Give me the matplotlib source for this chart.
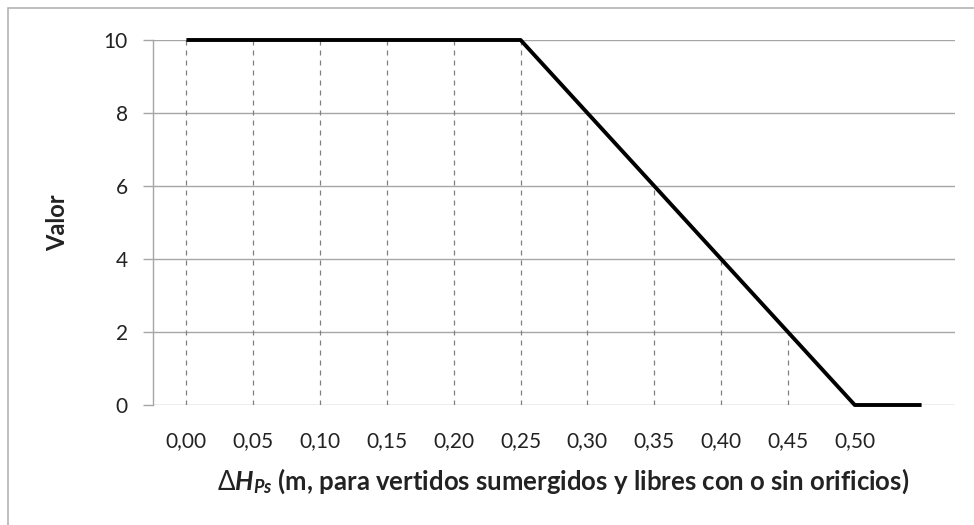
import matplotlib
matplotlib.use("Agg")
import matplotlib.pyplot as plt
from matplotlib.patches import Rectangle

categories = ["0,00", "0,05", "0,10", "0,15", "0,20", "0,25", "0,30", "0,35", "0,40", "0,45", "0,50", ""]
values = [10, 10, 10, 10, 10, 10, 8, 6, 4, 2, 0, 0]
yticks = [0, 2, 4, 6, 8, 10]

plt.rcParams['font.family'] = ['Lato', 'DejaVu Sans']
plt.rcParams['mathtext.fontset'] = 'custom'
plt.rcParams['mathtext.rm'] = 'Lato'
plt.rcParams['mathtext.it'] = 'Lato:italic'
plt.rcParams['mathtext.bf'] = 'Lato:bold'
try:
    plt.rcParams['mathtext.bfit'] = 'Lato:bold:italic'
except Exception:
    pass

W, H = 974, 525
fig = plt.figure(figsize=(W / 100, H / 100), dpi=100)
fig.patches.append(Rectangle((8 / W, -0.2), 1.2, 1.2 - 8 / H, transform=fig.transFigure,
                             fill=False, edgecolor='#b4b4b4', linewidth=1.2))

ax = fig.add_axes([153 / W, 1 - 405 / H, (955 - 153) / W, (405 - 40) / H])
x = list(range(len(categories)))

grid_c = '#a6a6a6'
for yv in yticks:
    ax.axhline(yv, color=grid_c, linewidth=1.0, zorder=1)
for xi, v in zip(x, values):
    if v > 0:
        ax.plot([xi, xi], [0, v], color='#808080', linewidth=0.9, linestyle=(0, (4, 4)), zorder=2)

ax.plot(x, values, color='black', linewidth=2.8, solid_capstyle='butt', clip_on=False, zorder=3)

ax.set_xlim(-0.5, len(categories) - 0.5)
ax.set_ylim(0, 10)
ax.set_xticks(x)
ax.set_xticklabels(categories)
ax.set_yticks(yticks)
ax.set_yticklabels([str(t) for t in yticks])
ax.tick_params(axis='x', length=0, pad=19, labelsize=15, colors='#222222')
ax.tick_params(axis='y', length=7, width=1.0, color=grid_c, pad=11, labelsize=15, labelcolor='#222222')
for s in ['top', 'right', 'bottom']:
    ax.spines[s].set_visible(False)
ax.spines['left'].set_color(grid_c)
ax.spines['left'].set_linewidth(1.0)

fig.text(58 / W, 1 - 222.5 / H, 'Valor', rotation=90, ha='center', va='center',
         fontsize=17, fontweight='bold', color='#222222')
fig.text(563 / W, 1 - 481 / H,
         r'$\Delta\mathbfit{H}_{\mathbfit{Ps}}$ (m, para vertidos sumergidos y libres con o sin orificios)',
         ha='center', va='center', fontsize=18.5, fontweight='bold', color='#222222')

fig.savefig('out.png', dpi=100)
